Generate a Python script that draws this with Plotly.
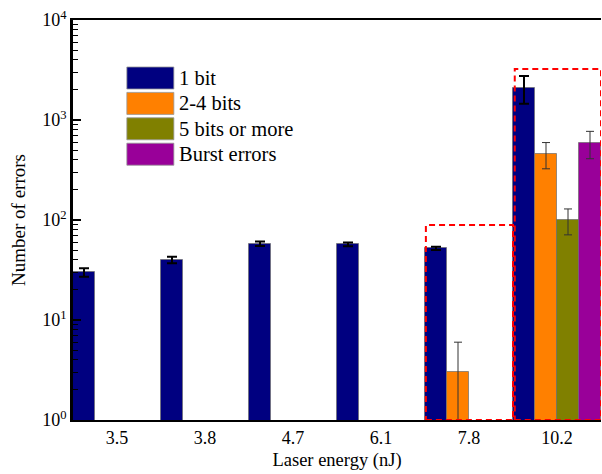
import plotly.graph_objects as go

categories = ["3.5", "3.8", "4.7", "6.1", "7.8", "10.2"]
series_names = ["1 bit", "2-4 bits", "5 bits or more", "Burst errors"]
one_bit = [30, 40, 58, 57, 52, 2100]
one_bit_err = [3, 3, 3, 2.5, 2, 650]
two_four = [None, None, None, None, 3, 460]
two_four_err = [None, None, None, None, 3, 135]
five_more = [None, None, None, None, None, 100]
five_more_err = [None, None, None, None, None, 29]
burst = [None, None, None, None, None, 590]
burst_err = [None, None, None, None, None, 180]

colors = ["#000080", "#FF8000", "#808000", "#990099"]

# highlight boxes (category-index x, data y)
box_x0 = [3.51, 4.52]
box_x1 = [4.5, 5.5]
box_ytop = [89, 3240]

ytick_vals = [1, 10, 100, 1000, 10000]
ytick_text = ["10<sup>0</sup>", "10<sup>1</sup>", "10<sup>2</sup>", "10<sup>3</sup>", "10<sup>4</sup>"]
minor_vals = [m * 10 ** d for d in range(4) for m in range(2, 10)]

FONT = "Liberation Serif"

fig = go.Figure()
series = [(one_bit, one_bit_err), (two_four, two_four_err), (five_more, five_more_err), (burst, burst_err)]
for i, (vals, errs) in enumerate(series):
    if i == 0:
        err = dict(type="data", array=errs, visible=True, color="black", thickness=2, width=5)
    else:
        minus = [None if (e is None or v is None) else min(e, v - 1e-3) for v, e in zip(vals, errs)]
        err = dict(type="data", array=errs, arrayminus=minus, symmetric=False, visible=True,
                   color="#333333", thickness=1, width=4)
    fig.add_trace(go.Bar(
        x=categories, y=vals, name=series_names[i],
        marker=dict(color=colors[i], line=dict(color="rgba(110,110,110,0.7)", width=1)),
        error_y=err, showlegend=False,
    ))

shapes = []
for x0, x1, yt in zip(box_x0, box_x1, box_ytop):
    shapes.append(dict(type="rect", xref="x", yref="y", x0=x0, x1=x1, y0=1, y1=yt,
                       line=dict(color="#FF0000", width=2, dash="6px,4px"), fillcolor="rgba(0,0,0,0)"))

# manual legend (paper coordinates)
annotations = []
leg_x0, leg_x1 = 0.102, 0.191
leg_top = 0.8825
leg_h = 0.055
leg_step = 0.0635
for i, name in enumerate(series_names):
    yt = leg_top - i * leg_step
    shapes.append(dict(type="rect", xref="paper", yref="paper", x0=leg_x0, x1=leg_x1,
                       y0=yt - leg_h, y1=yt, fillcolor=colors[i],
                       line=dict(color="rgba(150,150,150,0.8)", width=1)))
    annotations.append(dict(xref="paper", yref="paper", x=leg_x1 + 0.006, y=yt - leg_h / 2,
                            text=name, showarrow=False, xanchor="left", yanchor="middle",
                            font=dict(family=FONT, size=20.5, color="black")))

fig.update_layout(
    width=602, height=474,
    margin=dict(l=73, r=1, t=20, b=54),
    paper_bgcolor="white", plot_bgcolor="white",
    barmode="group", bargap=0, bargroupgap=0,
    font=dict(family=FONT, size=18, color="black"),
    shapes=shapes, annotations=annotations,
    showlegend=False,
)
fig.update_xaxes(
    type="category", range=[-0.5, 5.5],
    showline=True, linecolor="black", linewidth=2, mirror=True,
    ticks="", showgrid=False, tickfont=dict(family=FONT, size=18),
    title=dict(text="Laser energy (nJ)", font=dict(family=FONT, size=18.5), standoff=6),
)
fig.update_yaxes(
    type="log", range=[0, 4],
    tickmode="array", tickvals=ytick_vals, ticktext=ytick_text,
    ticks="inside", ticklen=8, tickwidth=1.5, tickcolor="black",
    minor=dict(tickmode="array", tickvals=minor_vals, ticks="inside", ticklen=5, tickwidth=1.2,
               tickcolor="black", showgrid=False),
    showline=True, linecolor="black", linewidth=2.5, mirror=False,
    showgrid=False, zeroline=False, tickfont=dict(family=FONT, size=18),
    title=dict(text="Number of errors", font=dict(family=FONT, size=19), standoff=12),
)

fig.write_html("out.html", config={"displayModeBar": False},
               post_script="document.body.style.margin='0px';document.body.style.overflow='hidden';")
